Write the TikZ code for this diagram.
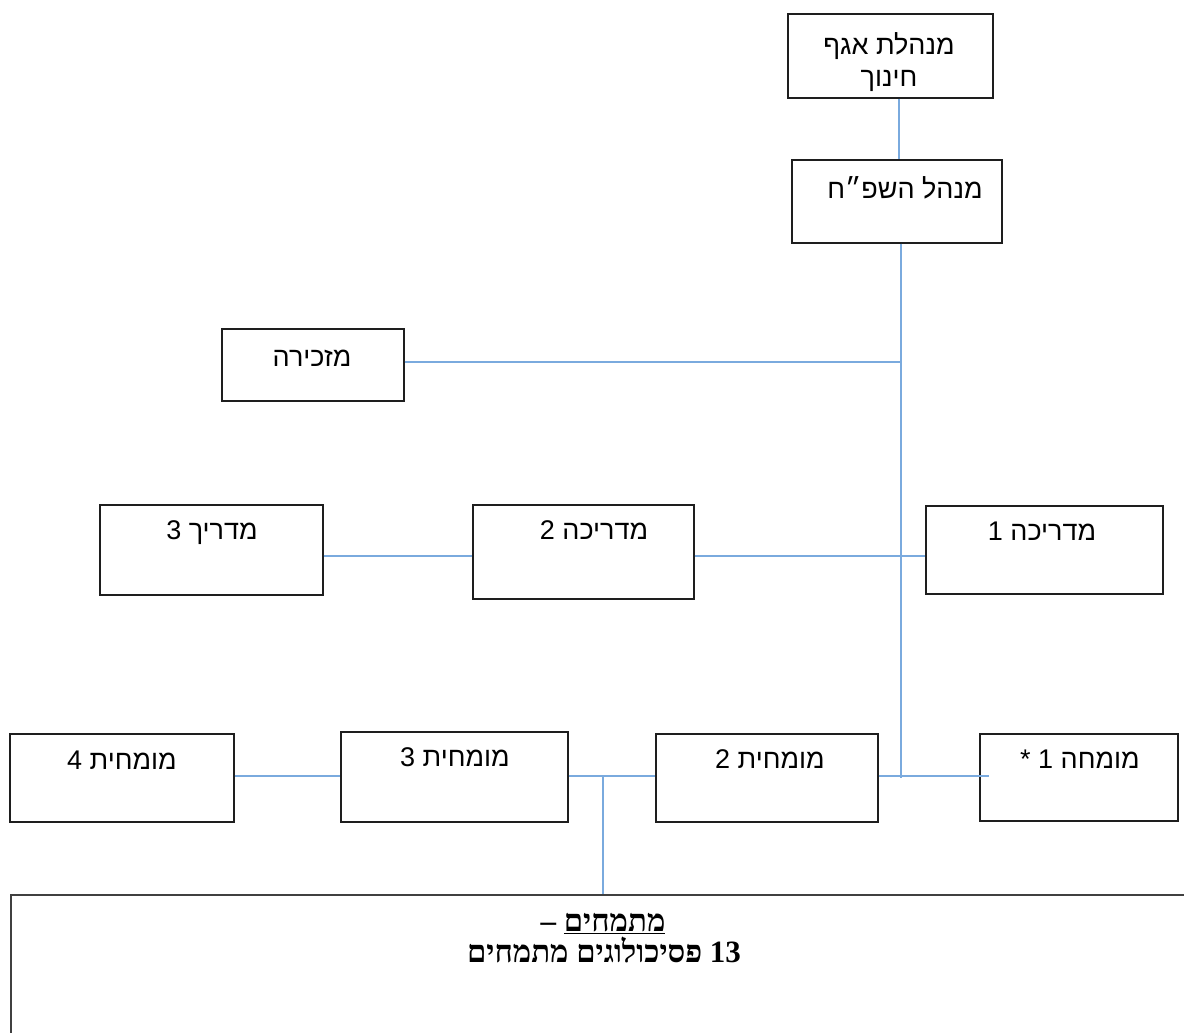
\documentclass[tikz,border=0pt]{standalone}
\usepackage{fontspec}
\newfontfamily\heb[Script=Hebrew]{Liberation Sans}
\newfontfamily\hebbold[Script=Hebrew]{Liberation Serif}
\TeXXeTstate=1
\definecolor{linkblue}{RGB}{122,170,222}
\definecolor{frame}{RGB}{30,30,30}
\begin{document}
\begin{tikzpicture}[x=1pt,y=-1pt,
  box/.style={draw=frame, line width=1.7pt, fill=white, inner sep=0pt, anchor=north west},
  conn/.style={draw=linkblue, line width=1.6pt},
  lbl/.style={font=\heb\fontsize{27}{32}\selectfont, inner sep=0pt, anchor=base},
  big/.style={font=\hebbold\bfseries\fontsize{31}{36}\selectfont, inner sep=0pt, anchor=base}
]
\useasboundingbox (0,0) rectangle (1184,1033);
\clip (0,0) rectangle (1184,1033);

% connector free ends
\coordinate (spineTop) at (901,242);
\coordinate (spineEnd) at (901,778);
\coordinate (m1end) at (989,776);
\coordinate (junc) at (603,776);

% boxes
\node[box, minimum width=205pt, minimum height=84pt] (head) at (787,13) {};
\node[box, minimum width=210pt, minimum height=83pt] (mgr) at (791,159) {};
\node[box, minimum width=182pt, minimum height=72pt] (sec) at (221,328) {};
\node[box, minimum width=237pt, minimum height=88pt] (g1) at (925,505) {};
\node[box, minimum width=221pt, minimum height=94pt] (g2) at (472,504) {};
\node[box, minimum width=223pt, minimum height=90pt] (g3) at (99,504) {};
\node[box, minimum width=198pt, minimum height=87pt] (e1) at (979,733) {};
\node[box, minimum width=222pt, minimum height=88pt] (e2) at (655,733) {};
\node[box, minimum width=227pt, minimum height=90pt] (e3) at (340,731) {};
\node[box, minimum width=224pt, minimum height=88pt] (e4) at (9,733) {};
\node[box, draw=frame!85, line width=2.2pt, minimum width=1200pt, minimum height=170pt] (interns) at (10,894) {};

% connectors
\draw[conn] (head.south -| 899,0) -- (mgr.north -| 899,0);
\draw[conn] (mgr.south -| spineTop) -- (spineEnd);
\draw[conn] (sec.east |- 0,362) -- (spineTop |- 0,362);
\draw[conn] (g2.east |- 0,556) -- (g1.west |- 0,556);
\draw[conn] (g3.east |- 0,556) -- (g2.west |- 0,556);
\draw[conn] (e2.east |- m1end) -- (m1end);
\draw[conn] (e3.east |- junc) -- (e2.west |- junc);
\draw[conn] (e4.east |- 0,776) -- (e3.west |- 0,776);
\draw[conn] (junc) -- (junc |- interns.north);

% labels
\node[lbl] (head-t1) at (889,55) {\beginR מנהלת אגף\endR};
\node[lbl] (head-t2) at (889,86) {\beginR חינוך\endR};
\node[lbl] (mgr-t) at (905,198) {\beginR מנהל השפ״ח\endR};
\node[lbl] (sec-t) at (312,366) {\beginR מזכירה\endR};
\node[lbl] (g1-t) at (1042,540) {\beginR מדריכה 1\endR};
\node[lbl] (g2-t) at (594,539) {\beginR מדריכה 2\endR};
\node[lbl] (g3-t) at (212,539) {\beginR מדריך 3\endR};
\node[lbl] (e1-t) at (1080,768) {\beginR מומחה 1 *\endR};
\node[lbl] (e2-t) at (770,768) {\beginR מומחית 2\endR};
\node[lbl] (e3-t) at (455,766) {\beginR מומחית 3\endR};
\node[lbl] (e4-t) at (122,769) {\beginR מומחית 4\endR};
\node[big] (interns-t1) at (603,931) {\beginR\underline{\beginR מתמחים\endR} –\endR};
\node[big] (interns-t2) at (604,962) {\beginR\beginL 13\endL{} פסיכולוגים מתמחים\endR};
\end{tikzpicture}
\end{document}
